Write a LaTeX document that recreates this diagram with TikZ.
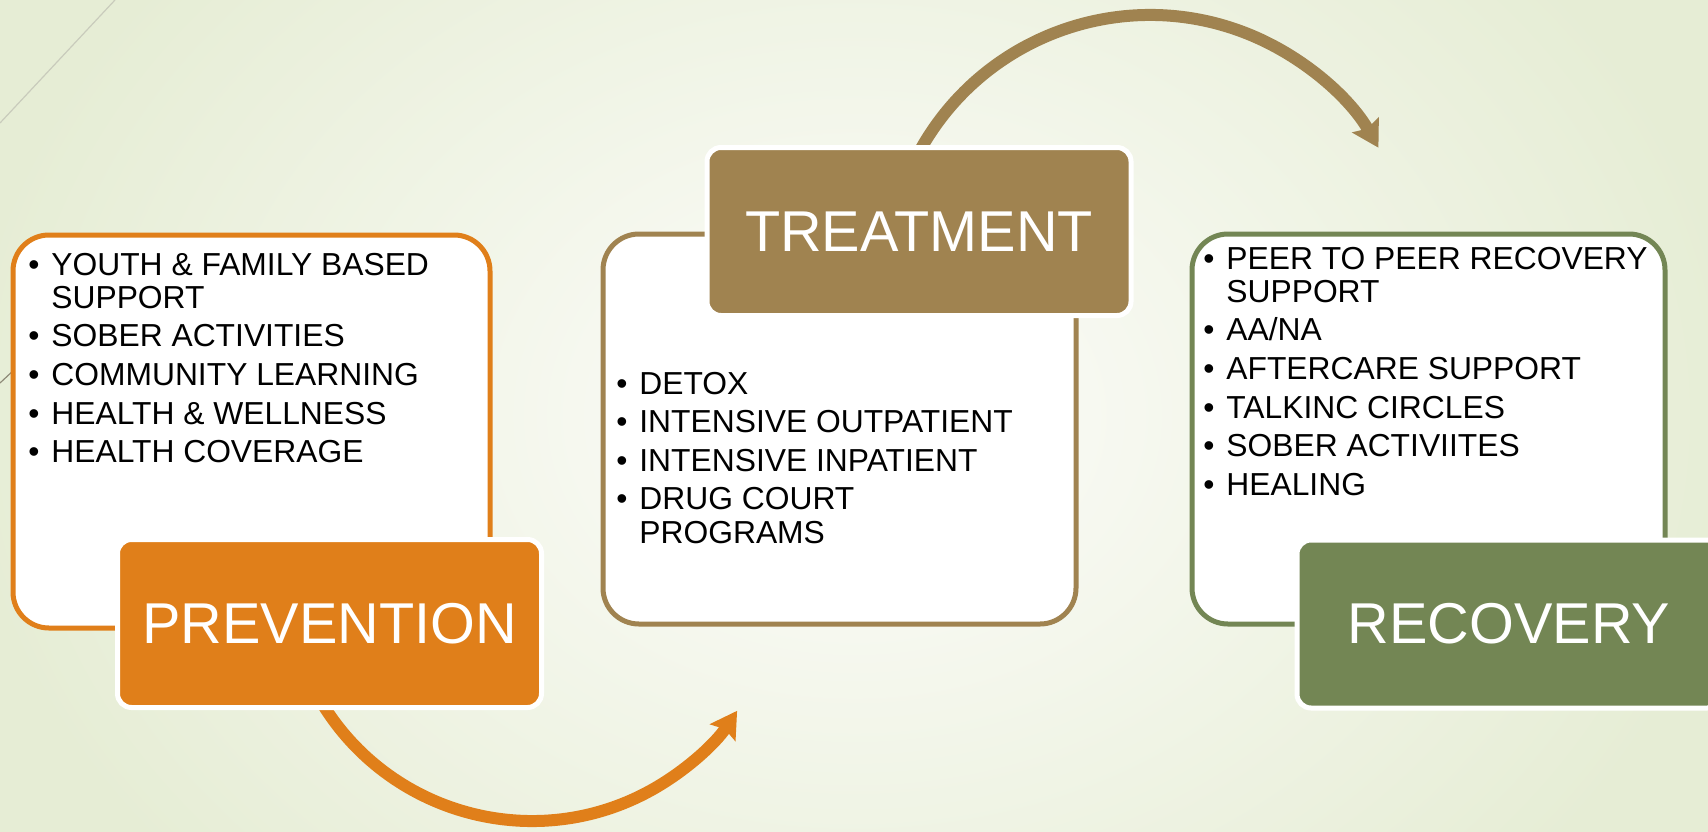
\documentclass[tikz,border=0pt]{standalone}
\usepackage{fontspec}
\setmainfont{Liberation Sans}
\usetikzlibrary{arrows.meta}
\definecolor{porange}{HTML}{E07F1A}
\definecolor{tbrown}{HTML}{A08350}
\definecolor{rgreen}{HTML}{738654}
\definecolor{bgedge}{HTML}{E6EDD5}
\definecolor{bgmid}{HTML}{FDFDFB}
\definecolor{linegray}{HTML}{C9CBBC}
\definecolor{linedark}{HTML}{8E8A78}
\newcommand{\bul}{\makebox[11.5pt][l]{\textbullet}}
\begin{document}
\begin{tikzpicture}[x=0.5pt,y=-0.5pt,
  outlinebox/.style={draw, line width=2.5pt, fill=white, rounded corners=18pt,
    inner sep=0pt, minimum width=236.5pt, minimum height=195pt},
  labelbox/.style={draw=white, line width=2.5pt, rounded corners=7pt,
    inner sep=0pt, minimum width=212pt, minimum height=84pt, text=white,
    font=\fontsize{28.8}{30}\selectfont},
  listtext/.style={inner sep=0pt, anchor=base west, text=black,
    font=\fontsize{15.9}{16.6}\selectfont},
  bigarrow/.style={line width=6pt, -{Stealth[length=13pt, width=15pt, inset=2pt]}}]
\useasboundingbox (0,0) rectangle (1708,831);
\clip (0,0) rectangle (1708,831);
\shade[inner color=bgmid, outer color=bgedge] (-40,-280) rectangle (1748,1111);
\coordinate (la) at (115,0);
\coordinate (lb) at (0,123);
\coordinate (lc) at (0,383);
\coordinate (ld) at (30,355);
\draw[linegray, line width=0.6pt] (la) -- (lb);
\draw[linedark, line width=0.6pt] (lc) -- (ld);

% outline boxes
\node[outlinebox, draw=porange, minimum width=238.5pt, minimum height=196.5pt] (pbox) at (251.5,431.5) {};
\node[outlinebox, draw=tbrown] (tbox) at (839.5,429) {};
\node[outlinebox, draw=rgreen] (rbox) at (1428.5,429) {};

% arrows
\coordinate (oa) at ({532+246*cos(150)},{575+246*sin(150)});
\draw[bigarrow, porange] (oa) arc[start angle=150, end angle=33.5, radius=246];
\coordinate (ba) at ({1150+263*cos(205)},{278+263*sin(205)});
\draw[bigarrow, tbrown] (ba) arc[start angle=205, end angle=330.3, radius=263];

% lists
\node[listtext] (plist) at (28,275) {\begin{tabular}[t]{@{}l@{}l@{}}
\bul & YOUTH \& FAMILY BASED\\
 & SUPPORT\\[2.7pt]
\bul & SOBER ACTIVITIES\\[2.7pt]
\bul & COMMUNITY LEARNING\\[2.7pt]
\bul & HEALTH \& WELLNESS\\[2.7pt]
\bul & HEALTH COVERAGE
\end{tabular}};
\node[listtext] (tlist) at (616,394) {\begin{tabular}[t]{@{}l@{}l@{}}
\bul & DETOX\\[2.7pt]
\bul & INTENSIVE OUTPATIENT\\[2.7pt]
\bul & INTENSIVE INPATIENT\\[2.7pt]
\bul & DRUG COURT\\
 & PROGRAMS
\end{tabular}};
\node[listtext] (rlist) at (1203,269) {\begin{tabular}[t]{@{}l@{}l@{}}
\bul & PEER TO PEER RECOVERY\\
 & SUPPORT\\[2.7pt]
\bul & AA/NA\\[2.7pt]
\bul & AFTERCARE SUPPORT\\[2.7pt]
\bul & TALKINC CIRCLES\\[2.7pt]
\bul & SOBER ACTIVIITES\\[2.7pt]
\bul & HEALING
\end{tabular}};

% labels
\node[labelbox, fill=porange] (plabel) at (329.5,623.5) {PREVENTION};
\node[labelbox, fill=tbrown] (tlabel) at (919,231.5) {TREATMENT};
\node[labelbox, fill=rgreen] (rlabel) at (1509,624) {RECOVERY};
\end{tikzpicture}
\end{document}
